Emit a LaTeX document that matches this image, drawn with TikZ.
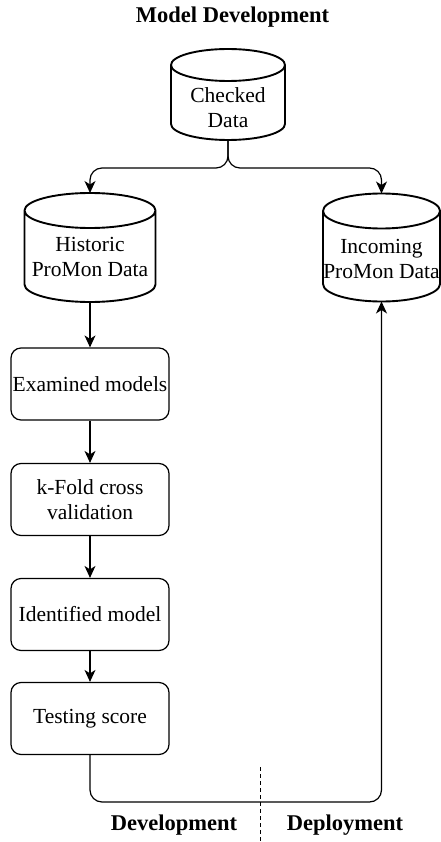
\documentclass[tikz,border=0pt]{standalone}
\usepackage{fontspec}
\setmainfont{Liberation Serif}
\usetikzlibrary{arrows.meta}

% outline of a database cylinder: centre x, top y, bottom y, x radius, y radius
\newcommand{\dbdraw}[5]{%
  \draw[dbline] (#1-#4,#2-#5) -- (#1-#4,#3+#5)
    arc[start angle=180,end angle=360,x radius=#4,y radius=#5]
    -- (#1+#4,#2-#5)
    arc[start angle=0,end angle=180,x radius=#4,y radius=#5]
    arc[start angle=180,end angle=360,x radius=#4,y radius=#5];}

\begin{document}
\begin{tikzpicture}[x=1pt,y=1pt,
  dbline/.style={line width=1.9pt, line join=round},
  dbnode/.style={inner sep=0pt, outer sep=0pt},
  lbl/.style={align=center, inner sep=0pt, font=\fontsize{21.5}{25}\selectfont},
  stepbox/.style={draw, line width=1.2pt, rounded corners=10pt,
    minimum width=158pt, minimum height=72pt, inner sep=0pt,
    align=center, font=\fontsize{21.5}{25}\selectfont},
  arr/.style={line width=1.2pt, -{Stealth[length=12pt,width=11pt,inset=3.5pt]}},
  head/.style={inner sep=0pt, font=\bfseries\fontsize{22.5}{26}\selectfont}]

\useasboundingbox (0,0) rectangle (440,-842);

% title
\node[head] (title) at (232.5,-17) {Model Development};

% data stores
\node[dbnode, minimum width=114pt, minimum height=91pt] (checked) at (228,-94.5) {};
\dbdraw{228}{-49}{-140}{57}{16}
\node[lbl] (checkedtxt) at (228,-108) {Checked\\Data};

\node[dbnode, minimum width=131pt, minimum height=109pt] (hist) at (90,-247.5) {};
\dbdraw{90}{-193}{-302}{65.5}{17.5}
\node[lbl] (histtxt) at (90,-257) {Historic\\ProMon Data};

\node[dbnode, minimum width=117pt, minimum height=108pt] (inc) at (381.5,-247.5) {};
\dbdraw{381.5}{-193.5}{-301.5}{58.5}{17.5}
\node[lbl] (inctxt) at (381.5,-259) {Incoming\\ProMon Data};

% model development steps
\node[stepbox] (exam)  at (90,-384)   {Examined models};
\node[stepbox] (kfold) at (90,-499.5) {k-Fold cross\\validation};
\node[stepbox] (ident) at (90,-614.5) {Identified model};
\node[stepbox] (test)  at (90,-718.5) {Testing score};

% split of the checked data
\coordinate (split) at (228,-168);
\draw[arr, rounded corners=12pt] (checked.south) -- (split) -| (hist.north);
\draw[arr, rounded corners=12pt] (checked.south) -- (split) -| (inc.north);

% development chain
\draw[arr] (hist.south) -- (exam.north);
\draw[arr] (exam.south) -- (kfold.north);
\draw[arr] (kfold.south) -- (ident.north);
\draw[arr] (ident.south) -- (test.north);

% hand-over to deployment
\coordinate (low) at (90,-802);
\draw[arr, rounded corners=12pt] (test.south) -- (low) -| (inc.south);

% boundary between the two phases
\coordinate (divtop) at (260,-767);
\coordinate (divbot) at (260,-842);
\draw[line width=1pt, dash pattern=on 4pt off 3pt] (divtop) -- (divbot);

\node[head] (dev) at (174,-825) {Development};
\node[head] (dep) at (345,-825) {Deployment};
\end{tikzpicture}
\end{document}
